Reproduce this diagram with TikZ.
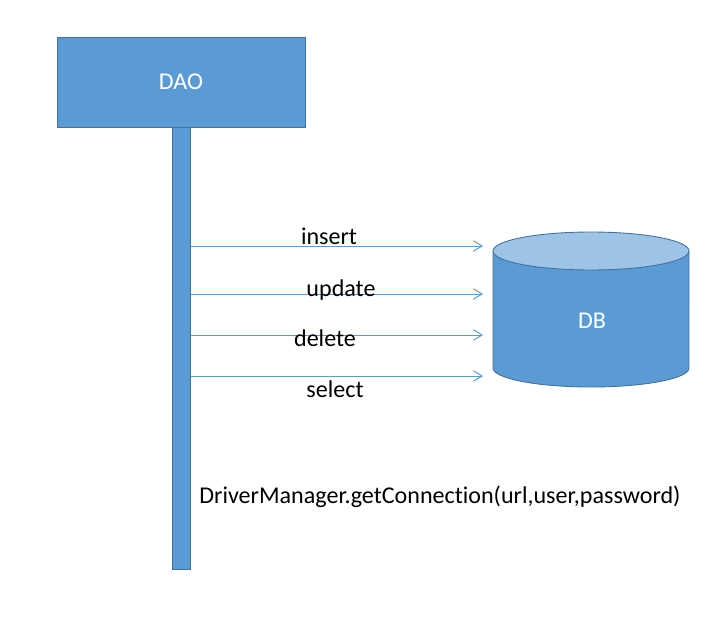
\documentclass[tikz,border=0pt]{standalone}
\usepackage{fontspec}
\setmainfont[Ligatures={NoCommon}]{Carlito}
\usetikzlibrary{arrows.meta}
\definecolor{officeblue}{HTML}{5B9BD5}
\definecolor{officeedge}{HTML}{41719C}
\definecolor{officelight}{HTML}{9DC3E6}
\begin{document}
\begin{tikzpicture}[x=0.02cm,y=-0.02cm,
	font=\fontsize{13.7}{16}\selectfont,
	>={Straight Barb[length=5pt,width=6pt]},
	blockbox/.style={fill=officeblue,draw=officeedge,line width=0.5pt,text=white},
	msg/.style={->,draw=officeblue,line width=0.55pt},
	lbl/.style={anchor=base,inner sep=0pt}]
		\useasboundingbox (0,0) rectangle (715,618);
		
		\node[blockbox,minimum width=4.96cm,minimum height=1.8cm] (dao) at (181,82) {DAO};
		\node[blockbox,minimum width=0.36cm,minimum height=8.84cm,inner sep=0pt] (lifeline) at (181.5,348) {};
		
		\filldraw[fill=officeblue,draw=officeedge,line width=0.5pt] (493,251) -- (493,368) arc[start angle=180,end angle=360,x radius=1.96cm,y radius=0.38cm] -- (689,251) -- cycle;
		\filldraw[fill=officelight,draw=officeedge,line width=0.5pt] (591,251) ellipse [x radius=1.96cm,y radius=0.38cm];
		\node[text=white] (db) at (592,321) {DB};
		
		\coordinate (insEnd) at (483,246);
		\coordinate (updEnd) at (483,294);
		\coordinate (delEnd) at (483,335);
		\coordinate (selEnd) at (483,376);
		\draw[msg] (lifeline.east |- insEnd)--(insEnd);
		\draw[msg] (lifeline.east |- updEnd)--(updEnd);
		\draw[msg] (lifeline.east |- delEnd)--(delEnd);
		\draw[msg] (lifeline.east |- selEnd)--(selEnd);
		
		\node[lbl] (insLbl) at (329,244) {insert};
		\node[lbl] (updLbl) at (341,296) {update};
		\node[lbl] (delLbl) at (325,346) {delete};
		\node[lbl] (selLbl) at (335,397) {select};
		
		\node[lbl,anchor=base west] (conn) at (199,503) {DriverManager.getConnection(url,user,password)};
		\end{tikzpicture}
\end{document}
